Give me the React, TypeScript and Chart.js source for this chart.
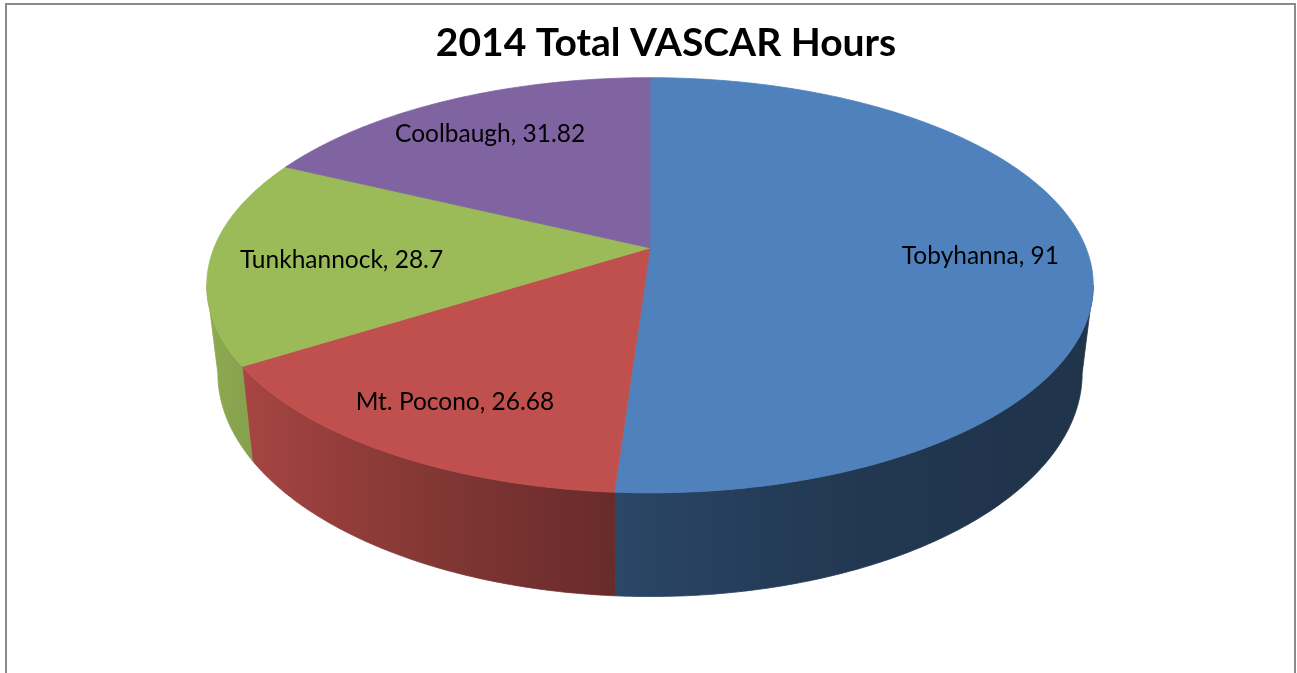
import React, { useEffect, useRef } from "react";
import { Chart, registerables } from "chart.js";

Chart.register(...registerables);

const TITLE = "2014 Total VASCAR Hours";
const categories = ["Tobyhanna", "Mt. Pocono", "Tunkhannock", "Coolbaugh"];
const hours = [91, 26.68, 28.7, 31.82];
const sliceColors = ["#4F81BD", "#C0504D", "#9BBB59", "#8064A2"];

// 3D look parameters (relative to the pie radius computed by Chart.js)
const TILT = 0.4607;
const PERSPECTIVE = 0.18;
const DEPTH = 0.195;
const BOTTOM_SHRINK = 0.975;
const LABEL_FRACTION = 0.77;
const LABEL_FONT = "24.5px Lato";
const LABEL_DROP = 3;
const LABEL_MARGIN = 29;

function hexToRgb(hex: string): [number, number, number] {
  const h = hex.replace("#", "");
  return [parseInt(h.slice(0, 2), 16), parseInt(h.slice(2, 4), 16), parseInt(h.slice(4, 6), 16)];
}

const pie3d = {
  id: "pie3d",
  beforeDatasetsDraw(chart: any) {
    const meta = chart.getDatasetMeta(0);
    const arcs = meta.data;
    if (!arcs.length) return false;
    const ctx: CanvasRenderingContext2D = chart.ctx;
    const first = arcs[0].getProps(["x", "y", "outerRadius"], true);
    const cx = first.x, cy = first.y, R = first.outerRadius;
    const A = R * TILT, D = R * DEPTH;
    const proj = (t: number, f: number, bottom: boolean): [number, number] => {
      const s = Math.sin(t), c = Math.cos(t);
      const w = 1 - PERSPECTIVE * f * s;
      const k = bottom ? BOTTOM_SHRINK : 1;
      return [cx + (R * f * c / w) * k, cy + (A * f * s) / w + (bottom ? D / w : 0)];
    };
    const lo = Math.asin(PERSPECTIVE);
    const hi = Math.PI - lo;

    const angles = arcs.map((a: any) => a.getProps(["startAngle", "endAngle"], true));

    // side walls
    arcs.forEach((arc: any, i: number) => {
      const { startAngle, endAngle } = angles[i];
      const rgb = hexToRgb(sliceColors[i]);
      for (const off of [-2 * Math.PI, 0, 2 * Math.PI]) {
        const a = Math.max(startAngle, lo + off);
        const b = Math.min(endAngle, hi + off);
        if (b <= a) continue;
        const n = Math.max(2, Math.ceil((b - a) / 0.01));
        ctx.save();
        const grad = ctx.createLinearGradient(cx - R, 0, cx + R, 0);
        for (let s = 0; s <= 10; s++) {
          const t = s / 10;
          const fct = 0.4 + 0.5 * (1 - t) * (1 - t);
          grad.addColorStop(
            t,
            `rgb(${Math.round(rgb[0] * fct)},${Math.round(rgb[1] * fct)},${Math.round(rgb[2] * fct)})`
          );
        }
        ctx.beginPath();
        for (let k = 0; k <= n; k++) {
          const th = a + ((b - a) * k) / n;
          const [px, py] = proj(th, 1, false);
          if (k === 0) ctx.moveTo(px, py);
          else ctx.lineTo(px, py);
        }
        for (let k = n; k >= 0; k--) {
          const th = a + ((b - a) * k) / n;
          const [px, py] = proj(th, 1, true);
          ctx.lineTo(px, py);
        }
        ctx.closePath();
        ctx.fillStyle = grad;
        ctx.strokeStyle = grad;
        ctx.lineWidth = 0.8;
        ctx.fill();
        ctx.stroke();
        ctx.restore();
      }
    });

    // top faces
    arcs.forEach((arc: any, i: number) => {
      const { startAngle, endAngle } = angles[i];
      const n = Math.max(2, Math.ceil((endAngle - startAngle) / 0.01));
      ctx.save();
      ctx.beginPath();
      ctx.moveTo(cx, cy);
      for (let k = 0; k <= n; k++) {
        const th = startAngle + ((endAngle - startAngle) * k) / n;
        const [px, py] = proj(th, 1, false);
        ctx.lineTo(px, py);
      }
      ctx.closePath();
      ctx.fillStyle = sliceColors[i];
      ctx.strokeStyle = sliceColors[i];
      ctx.lineWidth = 0.8;
      ctx.fill();
      ctx.stroke();
      ctx.restore();
    });

    // horizontal extent of the top face at a given height
    const rim: [number, number][] = [];
    for (let k = 0; k <= 720; k++) rim.push(proj((k / 720) * 2 * Math.PI, 1, false));
    const extentAt = (y: number): [number, number] => {
      let minX = Infinity, maxX = -Infinity;
      for (let k = 0; k < rim.length - 1; k++) {
        const [x1, y1] = rim[k];
        const [x2, y2] = rim[k + 1];
        if ((y1 - y) * (y2 - y) <= 0 && y1 !== y2) {
          const x = x1 + ((y - y1) / (y2 - y1)) * (x2 - x1);
          minX = Math.min(minX, x);
          maxX = Math.max(maxX, x);
        }
      }
      return [minX, maxX];
    };

    // data labels
    ctx.save();
    ctx.fillStyle = "#000000";
    ctx.font = LABEL_FONT;
    ctx.textAlign = "center";
    ctx.textBaseline = "middle";
    arcs.forEach((arc: any, i: number) => {
      const { startAngle, endAngle } = angles[i];
      const mid = (startAngle + endAngle) / 2;
      const text = `${categories[i]}, ${String(hours[i])}`;
      const hw = ctx.measureText(text).width / 2;
      let [lx, ly] = proj(mid, LABEL_FRACTION, false);
      const [minX, maxX] = extentAt(ly);
      if (isFinite(minX)) {
        lx = Math.max(lx, minX + LABEL_MARGIN + hw);
        lx = Math.min(lx, maxX - LABEL_MARGIN - hw);
      }
      ctx.fillText(text, lx, ly + LABEL_DROP);
    });
    ctx.restore();
    return false;
  },
};

export default function App() {
  const ref = useRef<HTMLCanvasElement>(null);
  useEffect(() => {
    if (!ref.current) return;
    const chart = new Chart(ref.current, {
      type: "pie",
      data: {
        labels: categories,
        datasets: [
          {
            data: hours,
            backgroundColor: sliceColors,
            borderWidth: 0,
            radius: 436,
          } as any,
        ],
      },
      options: {
        responsive: false,
        animation: false,
        devicePixelRatio: 1,
        layout: { padding: { left: 35, right: 0, top: 0, bottom: 244 } },
        plugins: {
          title: {
            display: true,
            text: TITLE,
            color: "#000000",
            font: { family: "Lato", size: 39, weight: "bold", lineHeight: 1.2 },
            padding: { top: 20, bottom: 0 },
          },
          legend: {
            display: true,
            position: "right",
            labels: { padding: 22, generateLabels: () => [] },
          },
          tooltip: { enabled: false },
        },
      } as any,
      plugins: [pie3d],
    });
    return () => chart.destroy();
  }, []);
  return (
    <div
      style={{
        position: "fixed",
        left: 0,
        top: 0,
        width: 1297,
        height: 673,
        overflow: "hidden",
        background: "#ffffff",
      }}
    >
      <div
        style={{
          position: "absolute",
          left: 5,
          top: 3,
          width: 1291,
          height: 720,
          border: "2px solid #8a8a8a",
          boxSizing: "border-box",
        }}
      />
      <canvas
        ref={ref}
        width={1297}
        height={673}
        style={{ position: "absolute", left: 0, top: 0, display: "block" }}
      />
    </div>
  );
}
